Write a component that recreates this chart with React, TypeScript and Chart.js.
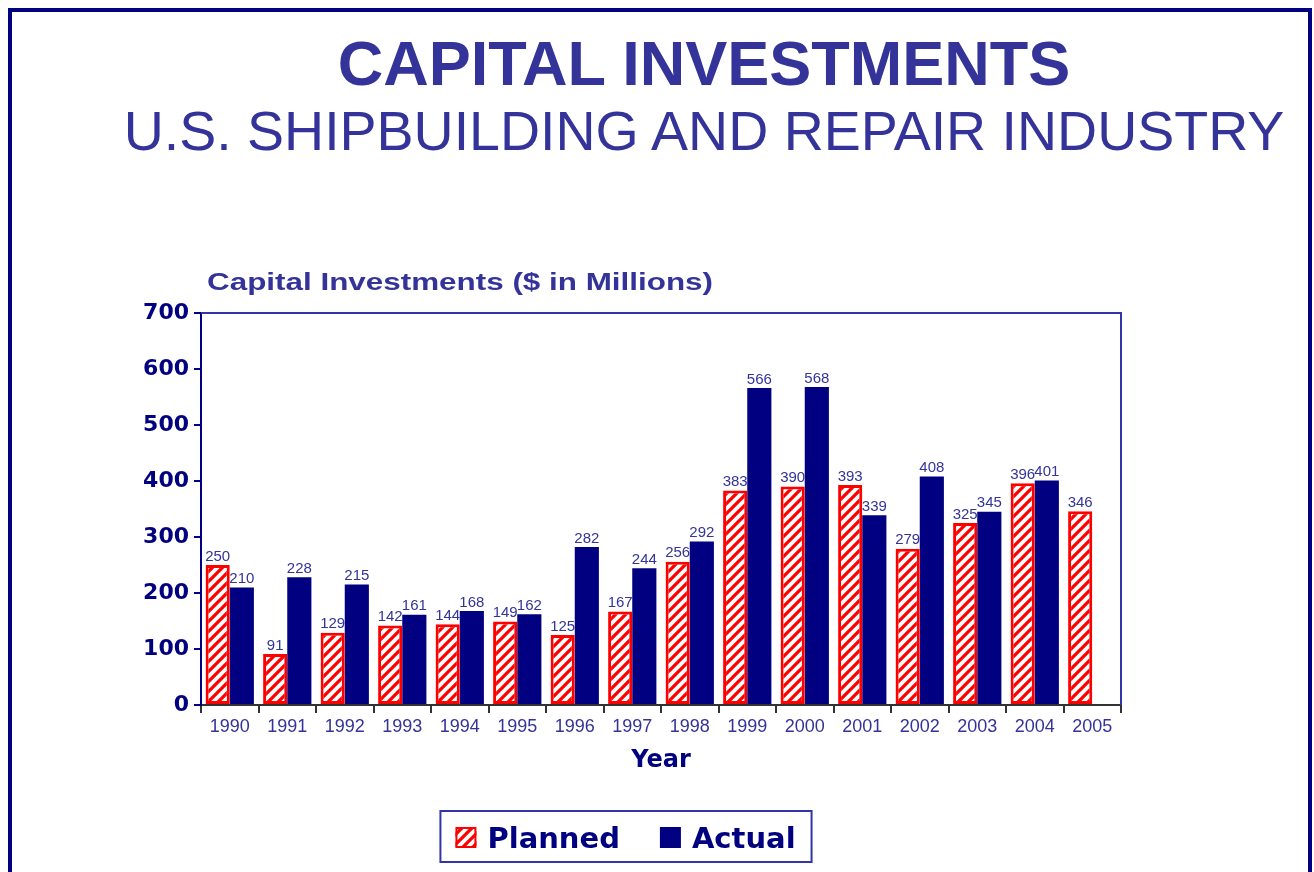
import React, { useEffect, useRef } from "react";
import { Chart, registerables } from "chart.js";

Chart.register(...registerables);

// ---------- data ----------
const years = [
  "1990", "1991", "1992", "1993", "1994", "1995", "1996", "1997",
  "1998", "1999", "2000", "2001", "2002", "2003", "2004", "2005",
];
const planned = [250, 91, 129, 142, 144, 149, 125, 167, 256, 383, 390, 393, 279, 325, 396, 346];
const actual: (number | null)[] = [210, 228, 215, 161, 168, 162, 282, 244, 292, 566, 568, 339, 408, 345, 401, null];
const seriesNames = ["Planned", "Actual"];
const yMin = 0;
const yMax = 700;
const yStep = 100;

const mainTitle = "CAPITAL INVESTMENTS";
const subTitle = "U.S. SHIPBUILDING AND REPAIR INDUSTRY";
const chartTitle = "Capital Investments ($ in Millions)";
const xTitle = "Year";

// ---------- styles ----------
const NAVY = "#000080";
const BLUE = "#333399";
const RED = "#ff0000";
const ARIAL = "'Liberation Sans', Arial, sans-serif";
const WIDE = "'DejaVu Sans', 'Liberation Sans', sans-serif";

function makeHatch(): CanvasPattern | string {
  const s = 10;
  const c = document.createElement("canvas");
  c.width = s;
  c.height = s;
  const g = c.getContext("2d");
  if (!g) return RED;
  g.fillStyle = "#ffffff";
  g.fillRect(0, 0, s, s);
  g.strokeStyle = RED;
  g.lineWidth = 3.3;
  g.lineCap = "square";
  g.beginPath();
  for (let k = -1; k <= 1; k++) {
    g.moveTo(k * s - 2, s + 2);
    g.lineTo(k * s + s + 2, -2);
  }
  g.stroke();
  const ctx = document.createElement("canvas").getContext("2d");
  const p = ctx ? ctx.createPattern(c, "repeat") : null;
  return p || RED;
}

function fillStretched(ctx: CanvasRenderingContext2D, text: string, x: number, y: number, width: number) {
  const w = ctx.measureText(text).width;
  const k = width / w;
  ctx.save();
  ctx.translate(x, y);
  ctx.scale(k, 1);
  ctx.fillText(text, 0, 0);
  ctx.restore();
}

export default function App() {
  const ref = useRef<HTMLCanvasElement | null>(null);

  useEffect(() => {
    const canvas = ref.current;
    if (!canvas) return;
    const hatch = makeHatch();

    const decor = {
      id: "decor",
      afterDraw(chart: any) {
        const ctx = chart.ctx as CanvasRenderingContext2D;
        const a = chart.chartArea;
        ctx.save();
        // plot area top / right border
        ctx.strokeStyle = "#3333aa";
        ctx.lineWidth = 2;
        ctx.beginPath();
        ctx.moveTo(a.left, a.top);
        ctx.lineTo(a.right, a.top);
        ctx.lineTo(a.right, a.bottom);
        ctx.stroke();

        // chart title
        ctx.fillStyle = BLUE;
        ctx.font = `bold 23px ${ARIAL}`;
        ctx.textAlign = "left";
        ctx.textBaseline = "alphabetic";
        fillStretched(ctx, chartTitle, a.left + 6, 290, 506);

        // legend
        ctx.font = `bold 29px ${WIDE}`;
        const w1 = ctx.measureText(seriesNames[0]).width;
        const w2 = ctx.measureText(seriesNames[1]).width;
        const sw = 21;
        const g1 = 11;
        const g2 = 40;
        const total = sw + g1 + w1 + g2 + sw + g1 + w2;
        const cx = 625.5;
        let x = cx - total / 2;
        const base = 848;
        // box
        ctx.strokeStyle = "#3333aa";
        ctx.lineWidth = 2;
        ctx.strokeRect(x - 15, 811, total + 31, 51);
        // planned swatch
        ctx.fillStyle = hatch as any;
        ctx.fillRect(x, base - sw, sw, sw);
        ctx.strokeStyle = RED;
        ctx.lineWidth = 2;
        ctx.strokeRect(x + 1, base - sw + 1, sw - 2, sw - 2);
        x += sw + g1;
        ctx.fillStyle = NAVY;
        ctx.fillText(seriesNames[0], x, base);
        x += w1 + g2;
        ctx.fillRect(x, base - sw, sw, sw);
        x += sw + g1;
        ctx.fillText(seriesNames[1], x, base);
        ctx.restore();
      },
    };

    const labels = {
      id: "valueLabels",
      afterDatasetsDraw(chart: any) {
        const ctx = chart.ctx as CanvasRenderingContext2D;
        ctx.save();
        ctx.font = `15px ${ARIAL}`;
        ctx.fillStyle = BLUE;
        ctx.textAlign = "center";
        ctx.textBaseline = "bottom";
        chart.data.datasets.forEach((ds: any, i: number) => {
          const meta = chart.getDatasetMeta(i);
          meta.data.forEach((bar: any, j: number) => {
            const v = ds.data[j];
            if (v === null || v === undefined) return;
            ctx.fillText(String(v), bar.x, bar.y - 1);
          });
        });
        ctx.restore();
      },
    };

    const chart = new Chart(canvas, {
      type: "bar",
      data: {
        labels: years,
        datasets: [
          {
            label: seriesNames[0],
            data: planned,
            backgroundColor: hatch as any,
            borderColor: RED,
            borderWidth: 3,
            borderSkipped: false,
          },
          {
            label: seriesNames[1],
            data: actual,
            backgroundColor: NAVY,
            borderWidth: 0,
          },
        ],
      },
      options: {
        responsive: false,
        animation: false,
        devicePixelRatio: 1,
        layout: { padding: { left: 130, right: 193, top: 313, bottom: 97 } },
        datasets: { bar: { categoryPercentage: 0.84, barPercentage: 1.0 } },
        plugins: {
          legend: { display: false },
          tooltip: { enabled: false },
          title: { display: false },
        },
        scales: {
          x: {
            grid: {
              drawOnChartArea: false,
              drawTicks: true,
              tickLength: 8,
              color: "#333333",
              lineWidth: 2,
              offset: true,
            },
            border: { color: "#333333", width: 2 },
            ticks: {
              color: BLUE,
              font: { family: ARIAL, size: 18 },
              padding: 3,
              maxRotation: 0,
              autoSkip: false,
            },
            title: {
              display: true,
              text: xTitle,
              color: NAVY,
              font: { family: WIDE, size: 24, weight: "bold" },
              padding: { top: 0, bottom: 0 },
            },
            afterFit: (s: any) => {
              s.height = 70;
            },
          },
          y: {
            min: yMin,
            max: yMax,
            grid: {
              drawOnChartArea: false,
              drawTicks: true,
              tickLength: 7,
              color: NAVY,
              lineWidth: 2,
            },
            border: { color: NAVY, width: 2 },
            ticks: {
              stepSize: yStep,
              color: NAVY,
              font: { family: WIDE, size: 22, weight: "bold" },
              padding: 5,
            },
            afterFit: (s: any) => {
              s.width = 71;
            },
          },
        },
      },
      plugins: [decor, labels],
    } as any);

    return () => chart.destroy();
  }, []);

  return (
    <div>
      <div
        style={{
          position: "fixed",
          left: 8,
          top: 8,
          width: 1304,
          height: 900,
          border: `4px solid ${NAVY}`,
          boxSizing: "border-box",
        }}
      />
      <div
        style={{
          position: "fixed",
          left: 104,
          width: 1200,
          top: 32,
          textAlign: "center",
          fontFamily: ARIAL,
          fontWeight: "bold",
          fontSize: 63,
          lineHeight: "63px",
          color: BLUE,
          whiteSpace: "nowrap",
        }}
      >
        {mainTitle}
      </div>
      <div
        style={{
          position: "fixed",
          left: 54,
          width: 1300,
          top: 104,
          textAlign: "center",
          fontFamily: ARIAL,
          fontSize: 55.5,
          lineHeight: "55px",
          color: BLUE,
          whiteSpace: "nowrap",
        }}
      >
        {subTitle}
      </div>
      <canvas
        ref={ref}
        width={1314}
        height={872}
        style={{ position: "fixed", left: 0, top: 0, width: 1314, height: 872 }}
      />
    </div>
  );
}
